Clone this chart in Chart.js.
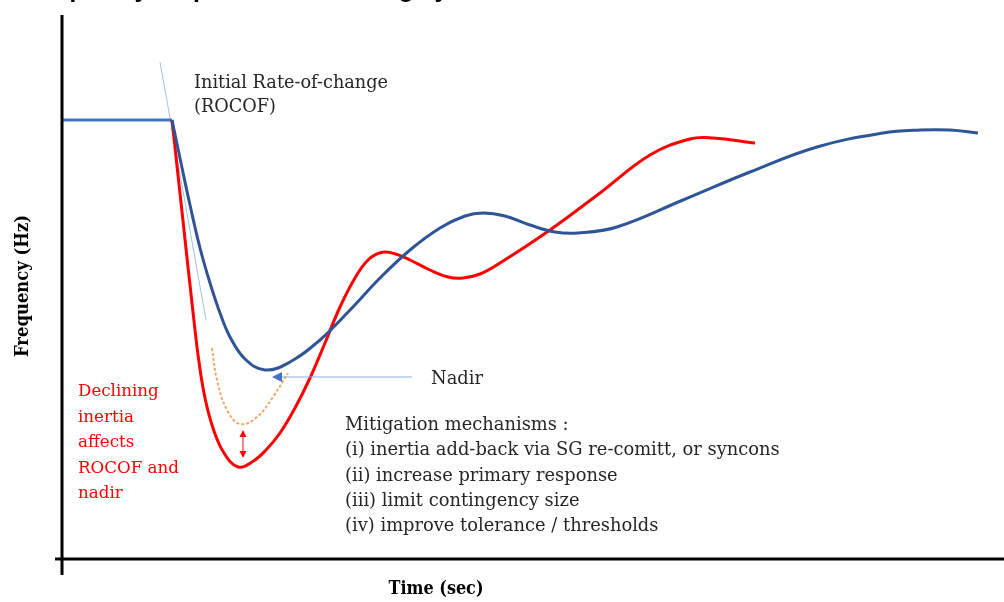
<!DOCTYPE html>
<html>
<head>
<meta charset="utf-8">
<script src="https://cdn.jsdelivr.net/npm/chart.js@4.4.1/dist/chart.umd.min.js"></script>
<style>
    html, body { margin: 0; padding: 0; background: #ffffff; }
    #wrap { width: 1004px; height: 602px; position: relative; }
</style>
</head>
<body>
<div id="wrap"><canvas id="freqChart" width="1004" height="602"></canvas></div>
<script>
// Scale limits (time in s, frequency in Hz)
const timeMin = 0;
const timeMax = 9.42;
const freqMin = 49.122;
const freqMax = 50.21;

// Pre-disturbance steady state
const steadyTime = [0, 1.10];
const steadyFreq = [50.0, 50.0];

// Response with higher inertia (blue)
const blueTime = [1.10, 1.19, 1.28, 1.38, 1.48, 1.58, 1.68, 1.83, 2.03, 2.28, 2.58, 2.88, 3.18, 3.48, 3.78, 4.03, 4.21, 4.43, 4.68, 4.93, 5.16, 5.55, 6.21, 6.88, 7.55, 8.21, 8.58, 8.88, 9.16];
const blueFreq = [50.0, 49.914, 49.83, 49.744, 49.674, 49.614, 49.566, 49.522, 49.50, 49.516, 49.56, 49.62, 49.684, 49.74, 49.784, 49.808, 49.814, 49.808, 49.79, 49.776, 49.774, 49.786, 49.84, 49.896, 49.946, 49.974, 49.98, 49.98, 49.974];

// Response with declining inertia (red)
const redTime = [1.10, 1.22, 1.31, 1.37, 1.43, 1.51, 1.62, 1.76, 1.90, 2.04, 2.18, 2.33, 2.48, 2.63, 2.78, 2.93, 3.06, 3.19, 3.32, 3.48, 3.68, 3.86, 4.01, 4.18, 4.38, 4.88, 5.38, 5.88, 6.28, 6.51, 6.93];
const redFreq = [50.0, 49.78, 49.616, 49.516, 49.444, 49.384, 49.334, 49.306, 49.316, 49.34, 49.374, 49.424, 49.484, 49.554, 49.626, 49.684, 49.72, 49.735, 49.733, 49.72, 49.70, 49.686, 49.684, 49.692, 49.714, 49.78, 49.854, 49.93, 49.962, 49.964, 49.954];

// Intermediate nadir (orange dashed)
const midTime = [1.50, 1.55, 1.65, 1.78, 1.95, 2.11, 2.26];
const midFreq = [49.544, 49.48, 49.42, 49.392, 49.406, 49.446, 49.494];

// Initial ROCOF tangent
const tangentTime = [0.98, 1.44];
const tangentFreq = [50.116, 49.60];

// Nadir pointer and nadir gap arrow
const nadirArrowTime = [3.50, 2.10];
const nadirArrowFreq = 49.486;
const gapArrowTime = 1.81;
const gapArrowFreq = [49.38, 49.324];

// Annotation texts
const rocofLabel = ['Initial Rate-of-change', '(ROCOF)'];
const inertiaLabel = ['Declining', 'inertia', 'affects', 'ROCOF and', 'nadir'];
const mitigationLabel = [
    'Mitigation mechanisms :',
    '(i) inertia add-back via SG re-comitt, or syncons',
    '(ii) increase primary response',
    '(iii) limit contingency size',
    '(iv) improve tolerance / thresholds'
];

function toPoints(xs, ys) {
    return xs.map((x, i) => ({ x: x, y: ys[i] }));
}

const serif = '"DejaVu Serif", "Liberation Serif", serif';
const serifNarrow = '"DejaVu Serif Condensed", "DejaVu Serif", serif';

// Pick a font size so that text spans the wanted width
function fitFont(ctx, text, weight, family, width) {
    ctx.font = weight + ' 20px ' + family;
    const size = 20 * width / ctx.measureText(text).width;
    ctx.font = weight + ' ' + size.toFixed(2) + 'px ' + family;
}

// Draw an arrow head at (x, y) pointing along angle
function arrowHead(ctx, x, y, angle, size, color) {
    ctx.save();
    ctx.translate(x, y);
    ctx.rotate(angle);
    ctx.fillStyle = color;
    ctx.beginPath();
    ctx.moveTo(0, 0);
    ctx.lineTo(-size, -size * 0.5);
    ctx.lineTo(-size, size * 0.5);
    ctx.closePath();
    ctx.fill();
    ctx.restore();
}

// Axes, arrows and text
const decorPlugin = {
    id: 'decor',
    afterDatasetsDraw(chart) {
        const ctx = chart.ctx;
        const xs = chart.scales.x;
        const ys = chart.scales.y;
        const area = chart.chartArea;
        ctx.save();

        // axis lines
        ctx.strokeStyle = '#000000';
        ctx.lineWidth = 3;
        ctx.beginPath();
        ctx.moveTo(area.left, area.top);
        ctx.lineTo(area.left, area.bottom + 16);
        ctx.moveTo(area.left - 7, area.bottom);
        ctx.lineTo(area.right, area.bottom);
        ctx.stroke();

        // nadir pointer
        const ny = ys.getPixelForValue(nadirArrowFreq);
        const nx0 = xs.getPixelForValue(nadirArrowTime[0]);
        const nx1 = xs.getPixelForValue(nadirArrowTime[1]);
        ctx.strokeStyle = '#8faadc';
        ctx.lineWidth = 1.2;
        ctx.beginPath();
        ctx.moveTo(nx0, ny);
        ctx.lineTo(nx1 + 8, ny);
        ctx.stroke();
        arrowHead(ctx, nx1, ny, Math.PI, 10, '#4472c4');

        // nadir gap double arrow
        const gx = xs.getPixelForValue(gapArrowTime);
        const gy0 = ys.getPixelForValue(gapArrowFreq[0]);
        const gy1 = ys.getPixelForValue(gapArrowFreq[1]);
        ctx.strokeStyle = '#ff0000';
        ctx.lineWidth = 1;
        ctx.beginPath();
        ctx.moveTo(gx, gy0 + 5);
        ctx.lineTo(gx, gy1 - 5);
        ctx.stroke();
        arrowHead(ctx, gx, gy0, -Math.PI / 2, 7, '#ff0000');
        arrowHead(ctx, gx, gy1, Math.PI / 2, 7, '#ff0000');

        // texts
        ctx.textBaseline = 'alphabetic';
        ctx.textAlign = 'left';
        ctx.fillStyle = '#262626';
        fitFont(ctx, rocofLabel[0], 'normal', serif, 194);
        rocofLabel.forEach((t, i) => ctx.fillText(t, 194, 88 + i * 24));
        fitFont(ctx, mitigationLabel[1], 'normal', serif, 435);
        ctx.fillText('Nadir', 431, 384);
        mitigationLabel.forEach((t, i) => ctx.fillText(t, 345, 430 + i * 25.3));
        ctx.fillStyle = '#ff0000';
        fitFont(ctx, inertiaLabel[3], 'normal', serif, 101);
        inertiaLabel.forEach((t, i) => ctx.fillText(t, 78, 396 + i * 25.5));

        // axis titles
        ctx.fillStyle = '#000000';
        ctx.textAlign = 'center';
        fitFont(ctx, 'Time (sec)', 'bold', serifNarrow, 95);
        ctx.fillText('Time (sec)', 436, 594);
        ctx.save();
        ctx.translate(28, 286);
        ctx.rotate(-Math.PI / 2);
        fitFont(ctx, 'Frequency (Hz)', 'bold', serifNarrow, 142);
        ctx.fillText('Frequency (Hz)', 0, 0);
        ctx.restore();

        // chart title, cut off at the top edge
        ctx.textAlign = 'left';
        ctx.font = 'bold 25px "Liberation Sans", Arial, sans-serif';
        ctx.fillText('Frequency response of declining system inertia', 22, -3);

        ctx.restore();
    }
};

const ctx = document.getElementById('freqChart').getContext('2d');
const freqChart = new Chart(ctx, {
    type: 'line',
    data: {
        datasets: [
            {
                data: toPoints(tangentTime, tangentFreq),
                borderColor: '#9dc3e6',
                borderWidth: 1,
                pointRadius: 0,
                order: 5
            },
            {
                data: toPoints(midTime, midFreq),
                borderColor: '#f0a868',
                borderWidth: 2,
                borderDash: [3, 2],
                tension: 0.4,
                pointRadius: 0,
                order: 4
            },
            {
                data: toPoints(steadyTime, steadyFreq),
                borderColor: '#4472c4',
                borderWidth: 3,
                pointRadius: 0,
                order: 3
            },
            {
                data: toPoints(redTime, redFreq),
                borderColor: '#ff0000',
                borderWidth: 3,
                tension: 0.4,
                pointRadius: 0,
                order: 2
            },
            {
                data: toPoints(blueTime, blueFreq),
                borderColor: '#2f5597',
                borderWidth: 3,
                tension: 0.4,
                pointRadius: 0,
                order: 1
            }
        ]
    },
    options: {
        responsive: false,
        animation: false,
        layout: {
            padding: { left: 62, right: 0, top: 15, bottom: 43 }
        },
        plugins: {
            legend: { display: false },
            tooltip: { enabled: false }
        },
        scales: {
            x: { type: 'linear', min: timeMin, max: timeMax, display: false },
            y: { type: 'linear', min: freqMin, max: freqMax, display: false }
        }
    },
    plugins: [decorPlugin]
});
</script>
</body>
</html>
